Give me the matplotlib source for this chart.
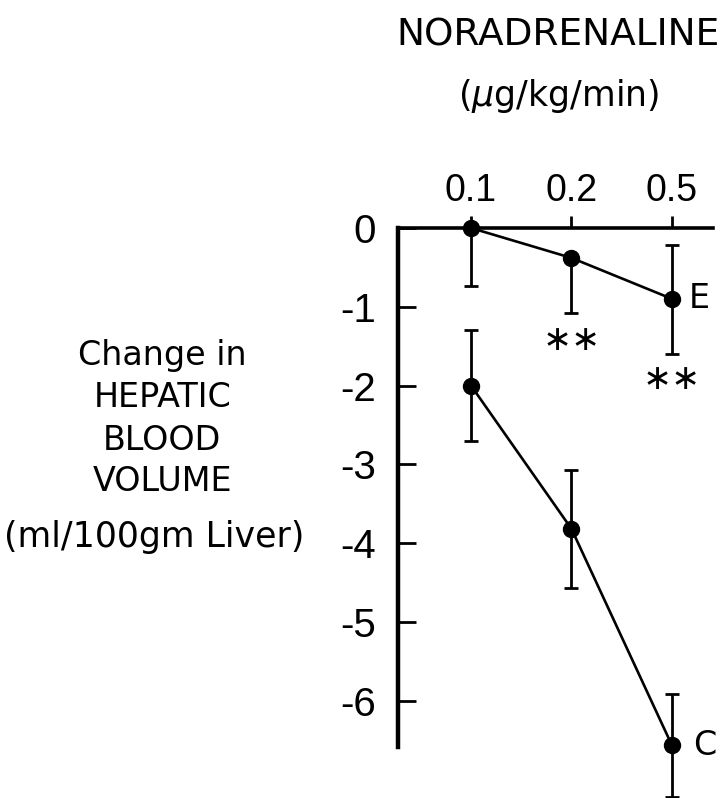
import matplotlib.pyplot as plt

# noradrenaline infusion rates (ug/kg/min)
doses = ['0.1', '0.2', '0.5']

# series E
e_mean = [0.0, -0.38, -0.90]
e_err_lo = [0.74, 0.70, 0.70]
e_err_hi = [0.0, 0.0, 0.68]

# series C
c_mean = [-2.0, -3.82, -6.57]
c_err = [0.71, 0.75, 0.65]

y_ticks = [0, -1, -2, -3, -4, -5, -6]

fig = plt.figure(figsize=(7.24, 7.98), dpi=100)
ax = fig.add_axes([0.5497, 0.0639, 0.4351, 0.6504])

x = list(range(len(doses)))
for mean, lo, hi in ((e_mean, e_err_lo, e_err_hi), (c_mean, c_err, c_err)):
    cont = ax.errorbar(x, mean, yerr=[lo, hi], fmt='-o', color='black',
                       ms=11.5, lw=1.9, elinewidth=2.0, capsize=5, capthick=2.0)
    for art in cont.get_children():
        art.set_clip_on(False)

ax.set_xlim(-0.726, 2.408)
ax.set_ylim(-6.59, 0)

ax.spines['right'].set_visible(False)
ax.spines['bottom'].set_visible(False)
ax.spines['left'].set_linewidth(3.2)
ax.spines['top'].set_linewidth(2.6)

ax.xaxis.tick_top()
ax.set_xticks(x)
ax.set_xticklabels(doses)
ax.set_yticks(y_ticks)
ax.set_yticklabels([str(v) if v == 0 else '-%d' % -v for v in y_ticks])
ax.tick_params(axis='x', direction='out', length=9, width=2.0, pad=5,
               labelsize=27)
ax.tick_params(axis='y', direction='in', length=13, width=2.0, pad=16,
               labelsize=29)
for lab in ax.get_xticklabels() + ax.get_yticklabels():
    lab.set_family('Liberation Sans')

# series labels and significance marks
ax.text(2.17, e_mean[2], 'E', fontsize=24, va='center', ha='left')
ax.text(2.21, c_mean[2], 'C', fontsize=24, va='center', ha='left')
ax.text(1, -1.42, '\u2217\u2217', fontsize=25, va='center', ha='center')
ax.text(2, -1.92, '\u2217\u2217', fontsize=25, va='center', ha='center')

fig.text(0.771, 0.955, 'NORADRENALINE', fontsize=27, ha='center', va='center')
fig.text(0.771, 0.880, '($\\mu$g/kg/min)', fontsize=25, ha='center', va='center')

ylab = ['Change in', 'HEPATIC', 'BLOOD', 'VOLUME']
ylab_y = [0.555, 0.5025, 0.4486, 0.396]
for s, yy in zip(ylab, ylab_y):
    fig.text(0.224, yy, s, fontsize=24, ha='center', va='center')
fig.text(0.213, 0.327, '(ml/100gm Liver)', fontsize=25, ha='center', va='center')

fig.savefig('out.png', dpi=100)
